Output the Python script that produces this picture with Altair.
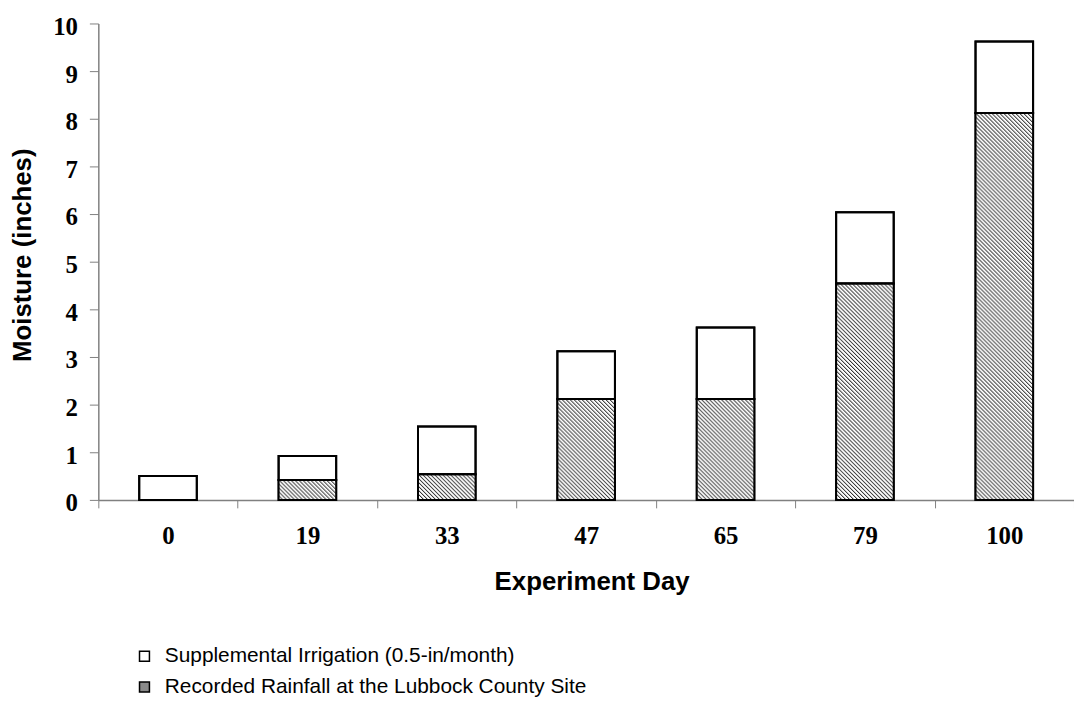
import altair as alt
import pandas as pd
from urllib.parse import quote

# ---- data ----
days = ["0", "19", "33", "47", "65", "79", "100"]
rainfall = [0.0, 0.42, 0.54, 2.12, 2.12, 4.54, 8.12]
irrigation = [0.5, 0.5, 1.0, 1.0, 1.5, 1.5, 1.5]
series = [
    "Supplemental Irrigation (0.5-in/month)",
    "Recorded Rainfall at the Lubbock County Site",
]
y_ticks = list(range(0, 11))

rows = []
for d, r, i in zip(days, rainfall, irrigation):
    rows.append({"day": d, "series": series[1], "lo": 0.0, "hi": r})
    rows.append({"day": d, "series": series[0], "lo": r, "hi": r + i})
df = pd.DataFrame(rows)

# hatch texture (diagonal lines) used as an image fill
hatch_svg = (
    "<svg xmlns='http://www.w3.org/2000/svg' width='100%' height='100%' shape-rendering='crispEdges'>"
    "<defs><pattern id='h' width='4' height='4' patternUnits='userSpaceOnUse'>"
    "<rect width='4' height='4' fill='#ffffff'/>"
    "<path d='M0,0h1v1h-1z M1,1h1v1h-1z M2,2h1v1h-1z M3,3h1v1h-1z' fill='#2a2a2a'/>"
    "<path d='M1,0h1v1h-1z M2,1h1v1h-1z M3,2h1v1h-1z M0,3h1v1h-1z' fill='#c4c4c4'/>"
    "</pattern></defs><rect width='100%' height='100%' fill='url(#h)'/></svg>"
)
HATCH = "data:image/svg+xml;charset=utf-8," + quote(hatch_svg)

AXIS_GRAY = "#808080"

x_enc = alt.X(
    "day:N",
    sort=days,
    scale=alt.Scale(paddingInner=0, paddingOuter=0),
    axis=alt.Axis(
        title="Experiment Day",
        labelAngle=0,
        labelFont="Liberation Serif",
        labelFontSize=25,
        labelFontWeight="bold",
        labelColor="black",
        labelPadding=16,
        tickBand="extent",
        tickSize=8,
        tickColor=AXIS_GRAY,
        domainColor=AXIS_GRAY,
        domainWidth=1.5,
        titleFont="Liberation Sans",
        titleFontSize=26,
        titleFontWeight="bold",
        titleColor="black",
        titleX=497,
        titleY=90,
        titleAlign="center",
        titleBaseline="alphabetic",
        grid=False,
    ),
)

y_enc = alt.Y(
    "hi:Q",
    scale=alt.Scale(domain=[0, 10], nice=False),
    axis=alt.Axis(
        title="Moisture (inches)",
        values=y_ticks,
        format="d",
        labelFont="Liberation Serif",
        labelFontSize=25,
        labelFontWeight="bold",
        labelColor="black",
        labelPadding=12,
        labelBaseline="alphabetic",
        labelOffset=11,
        tickSize=9,
        tickColor=AXIS_GRAY,
        domainColor=AXIS_GRAY,
        domainWidth=1.5,
        titleFont="Liberation Sans",
        titleFontSize=26,
        titleFontWeight="bold",
        titleColor="black",
        titleX=-76,
        titleY=233,
        titleAngle=270,
        titleAlign="center",
        titleBaseline="middle",
        grid=False,
    ),
)

bars = alt.Chart(df).mark_bar(width=58, stroke="black", strokeWidth=2).encode(
    x=x_enc,
    y=y_enc,
    y2="lo:Q",
    color=alt.Color(
        "series:N",
        scale=alt.Scale(domain=series, range=["#ffffff", "#8a8a8a"]),
        legend=alt.Legend(
            title=None,
            orient="none",
            legendX=36,
            legendY=627,
            direction="vertical",
            symbolType="square",
            symbolSize=100,
            symbolStrokeColor="black",
            symbolStrokeWidth=1.5,
            labelFont="Liberation Sans",
            labelFontSize=21,
            labelColor="black",
            labelOffset=10,
            labelLimit=800,
            rowPadding=9,
            padding=0,
        ),
    ),
)

hatch = (
    alt.Chart(df)
    .transform_filter((alt.datum.series == series[1]) & (alt.datum.hi > 0))
    .mark_image(width=58, aspect=False)
    .encode(x=x_enc, y=y_enc, y2="lo:Q", url=alt.value(HATCH))
)

outline = alt.Chart(df).mark_bar(
    width=58, fillOpacity=0, stroke="black", strokeWidth=2
).encode(x=x_enc, y=y_enc, y2="lo:Q")

chart = (
    alt.layer(bars, hatch, outline)
    .properties(
        width=983,
        height=480,
        padding={"left": 91, "top": 13, "right": 0, "bottom": 200},
        autosize=alt.AutoSizeParams(type="none"),
        background="white",
    )
    .configure_view(stroke=None)
)

chart.save("out.html", embed_options={"renderer": "svg", "actions": False})
